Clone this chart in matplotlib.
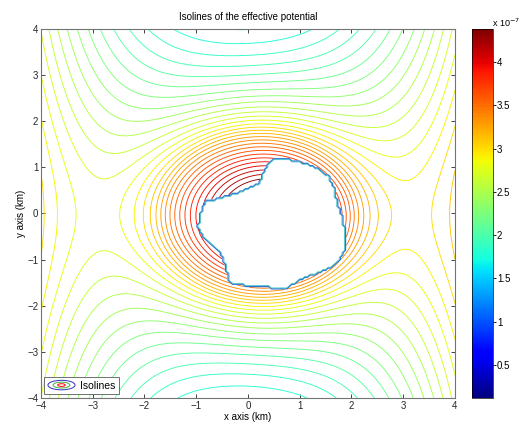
import numpy as np
import matplotlib
matplotlib.use('Agg')
import matplotlib.pyplot as plt
from matplotlib.path import Path
from matplotlib.patches import Ellipse
from matplotlib.legend_handler import HandlerBase
from matplotlib.lines import Line2D
from matplotlib.colors import Normalize
from matplotlib.cm import ScalarMappable

plt.rcParams['font.family'] = ['Liberation Sans', 'DejaVu Sans']

# contorno do corpo (km)
body_x = [0.59, 0.81, 1.07, 1.39, 1.55, 1.65, 1.68, 1.71, 1.81, 1.87, 1.89, 1.84,
          1.71, 1.52, 1.26, 1.00, 0.75, 0.55, 0.30, -0.03, -0.35, -0.41, -0.48,
          -0.67, -0.86, -0.96, -0.93, -0.86, -0.80, -0.48, -0.09, 0.23, 0.30,
          0.36, 0.49]
body_y = [1.18, 1.15, 1.09, 0.95, 0.80, 0.59, 0.44, 0.23, -0.06, -0.35, -0.64, -0.86,
          -1.07, -1.22, -1.32, -1.43, -1.61, -1.63, -1.56, -1.56, -1.50, -1.22, -0.93,
          -0.71, -0.50, -0.28, -0.06, 0.15, 0.26, 0.34, 0.48, 0.66, 0.88,
          1.02, 1.15]

# parametros do potencial efetivo (unidades de 1e-7)
mu = 4.61          # termo gravitacional
r_esf = 1.85       # raio da esfera equivalente (km)
x_c, y_c = 0.18, -0.03
x_rot = 0.0        # eixo de rotacao
k_sela = 27.0      # mu/(2b) -> posicao dos pontos de sela
v_off = 0.547
# correcao local (forma do corpo)
a_loc, s_loc = 0.5, 1.1
x_loc, y_loc = 0.6, -0.2
v_min, v_max = 0.12, 4.38
n_lev = 45

cb_ticks = [0.5, 1, 1.5, 2, 2.5, 3, 3.5, 4]
ax_ticks = [-4, -3, -2, -1, 0, 1, 2, 3, 4]

# malha
xg = np.arange(-4, 4.0001, 0.05)
yg = np.arange(-4, 4.0001, 0.05)
X, Y = np.meshgrid(xg, yg)
r = np.hypot(X - x_c, Y - y_c)
grav = np.where(r >= r_esf, mu / np.maximum(r, 1e-9),
                mu * (3 * r_esf**2 - r**2) / (2 * r_esf**3))
loc = a_loc * np.exp(-((X - x_loc)**2 + (Y - y_loc)**2) / s_loc**2)
V = grav + loc + mu / (2 * k_sela) * (X - x_rot)**2 + v_off
dentro = Path(np.column_stack([body_x, body_y])).contains_points(
    np.column_stack([X.ravel(), Y.ravel()])).reshape(X.shape)
V = np.ma.masked_where(dentro, V)

levels = np.linspace(v_min, v_max, n_lev + 2)[1:-1]


class HandlerIso(HandlerBase):
    def create_artists(self, legend, orig_handle, xdescent, ydescent,
                       width, height, fontsize, trans):
        cx = 0.5 * width - xdescent
        cy = 0.5 * height - ydescent
        arts = []
        for f, c in [(1.0, '#3030c0'), (0.62, '#40b040'), (0.28, 'red')]:
            arts.append(Ellipse((cx, cy), width * f, height * 1.1 * f, fill=False,
                                edgecolor=c, lw=0.7, transform=trans))
        return arts


fig = plt.figure(figsize=(5.2, 4.32), dpi=100)
ax = fig.add_axes([0.0788, 0.0787, 0.7962, 0.8546])
cs = ax.contour(X, Y, V, levels=levels, cmap='jet', vmin=v_min, vmax=v_max,
                linewidths=0.65)
# borda do corpo (degraus da malha)
ax.contour(X, Y, dentro.astype(float), levels=[0.3], colors=['#2f6fd0'],
           linewidths=0.9)
ax.contour(X, Y, dentro.astype(float), levels=[0.7], colors=['#3cc0c8'],
           linewidths=0.6)
ax.set_xlim(-4, 4)
ax.set_ylim(-4, 4)
ax.set_xticks(ax_ticks)
ax.set_yticks(ax_ticks)
ax.tick_params(direction='in', top=True, right=True, length=3, width=0.6,
               labelsize=7, colors='0.15', pad=2)
for s in ax.spines.values():
    s.set_color('0.45')
    s.set_linewidth(0.8)
ax.set_title('Isolines of the effective potential', fontsize=7, pad=6)
ax.set_xlabel('x axis (km)', fontsize=7, labelpad=1)
ax.set_ylabel('y axis (km)', fontsize=7, labelpad=1)

h = Line2D([], [])
leg = ax.legend([h], ['Isolines'], handler_map={Line2D: HandlerIso()},
                loc='lower left', bbox_to_anchor=(0.008, 0.01), borderaxespad=0,
                fontsize=7.5, fancybox=False, handlelength=2.6, handleheight=0.9,
                borderpad=0.35, handletextpad=0.5, framealpha=1)
leg.get_frame().set_edgecolor('0.35')
leg.get_frame().set_linewidth(0.6)

cax = fig.add_axes([0.907, 0.0793, 0.0404, 0.853])
sm = ScalarMappable(norm=Normalize(v_min, v_max), cmap='jet')
cb = fig.colorbar(sm, cax=cax, ticks=cb_ticks)
cb.ax.set_yticklabels(['0.5', '1', '1.5', '2', '2.5', '3', '3.5', '4'])
cb.ax.tick_params(labelsize=7, length=2, width=0.6, pad=1)
cb.outline.set_linewidth(0.5)
fig.text(0.946, 0.948, 'x 10$^{-7}$', fontsize=6.5, ha='left', va='center')

fig.savefig('out.png', dpi=100)
